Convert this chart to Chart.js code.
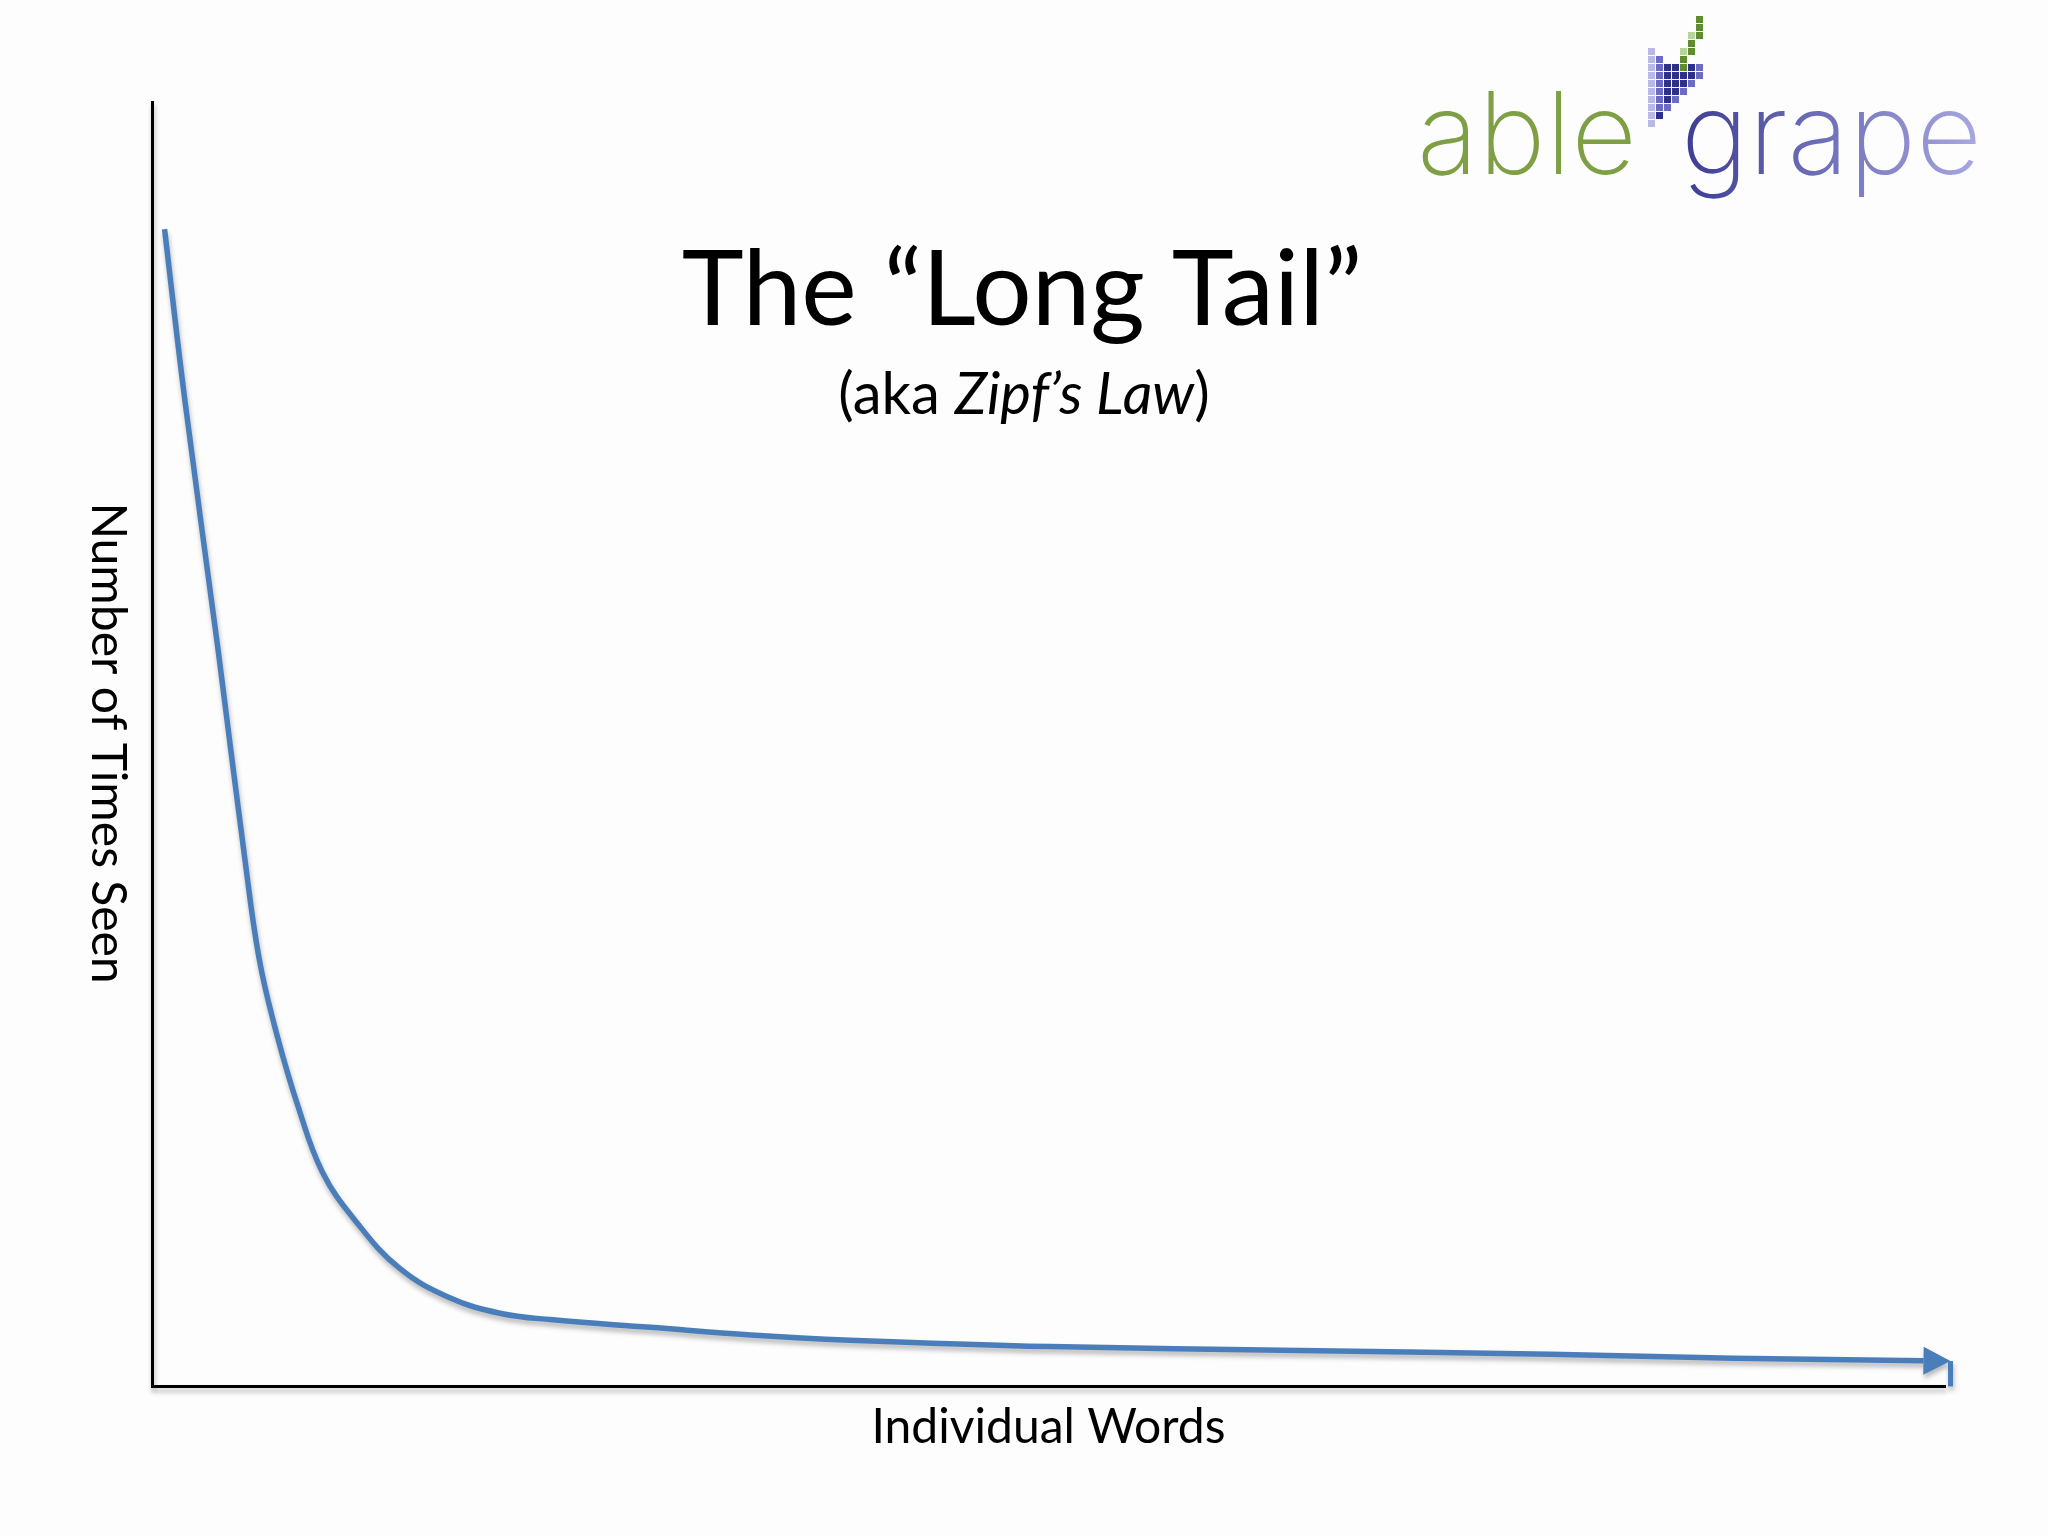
<!DOCTYPE html>
<html>
<head>
<meta charset="utf-8">
<title>The “Long Tail”</title>
<script src="https://cdn.jsdelivr.net/npm/chart.js@4.4.1/dist/chart.umd.min.js"></script>
<style>
  html, body { margin: 0; padding: 0; background: #fdfdfd; }
  #wrap { width: 2048px; height: 1536px; }
</style>
</head>
<body>
<div id="wrap"><canvas id="chart-zipf" width="2048" height="1536"></canvas></div>
<script>
// ── Data (abstract rank vs. frequency) ──
const rankX  = [0.7, 1.84, 3.7, 5.5, 6.1, 7.0, 8.1, 9.5, 11.4, 13.8, 16.6, 19.4, 22.2, 27.8, 33.4, 38.9, 50.1, 64.0, 78.0, 88.2, 98.8];
const countY = [90.1, 76.7, 57.2, 37.6, 32.4, 27.2, 22.0, 16.7, 12.8, 9.2, 6.9, 5.7, 5.2, 4.6, 4.0, 3.6, 3.1, 2.8, 2.5, 2.2, 2.0];

const titleText     = 'The “Long Tail”';
const subtitleParts = [['(aka ', 'normal'], ['Zipf’s Law', 'italic'], [')', 'normal']];
const xAxisLabel    = 'Individual Words';
const yAxisLabel    = 'Number of Times Seen';

// ── Style ────────────────────────────────────────────────
const BLUE   = '#4a7ebb';
const FONT   = 'Lato, "Open Sans", sans-serif';

// pixel mosaic of the logo icon (one char per cell)
const logoCells = [
  '......g.',
  '......g.',
  '.....Gg.',
  '.....g..',
  'p...Gg..',
  'pP..g...',
  'pPDDgDP.',
  'pPDDDDP.',
  'pPDDDP..',
  'pPDDP...',
  'pPDP....',
  'pPP.....',
  'pD......',
  'p.......'
];
const logoColors = {
  g: '#5f8c2f', G: 'rgba(140,185,90,0.6)',
  p: 'rgba(130,130,210,0.55)', P: '#6b6bc4', D: '#2f2f8c'
};

// ── Helpers ──────────────────────────────────────────────
function setShadow(ctx) {
  ctx.shadowColor   = 'rgba(0,0,0,0.28)';
  ctx.shadowBlur    = 5;
  ctx.shadowOffsetX = 1;
  ctx.shadowOffsetY = 4;
}

function drawArrowHead(chart) {
  const ctx  = chart.ctx;
  const pts  = chart.getDatasetMeta(0).data;
  const end  = pts[pts.length - 1];
  const prev = pts[pts.length - 2];
  const a    = Math.atan2(end.y - prev.y, end.x - prev.x);
  const len = 27, half = 14;
  const tipX = end.x + len * Math.cos(a);
  const tipY = end.y + len * Math.sin(a);

  ctx.fillStyle = BLUE;
  ctx.beginPath();
  ctx.moveTo(tipX, tipY);
  ctx.lineTo(end.x - half * Math.sin(a), end.y + half * Math.cos(a));
  ctx.lineTo(end.x + half * Math.sin(a), end.y - half * Math.cos(a));
  ctx.closePath();
  ctx.fill();

  // little vertical stub under the tip, as on the slide
  ctx.strokeStyle = BLUE;
  ctx.lineWidth = 5;
  ctx.beginPath();
  ctx.moveTo(tipX, tipY);
  ctx.lineTo(tipX, chart.scales.y.getPixelForValue(0));
  ctx.stroke();
}

function drawTexts(ctx) {
  ctx.fillStyle = '#000';
  ctx.textBaseline = 'alphabetic';

  // title
  ctx.font = `400 105px ${FONT}`;
  ctx.textAlign = 'center';
  ctx.fillText(titleText, 1022, 325);

  // subtitle, mixed roman / italic
  let total = 0;
  subtitleParts.forEach(([t, s]) => { ctx.font = `${s} 400 58px ${FONT}`; total += ctx.measureText(t).width; });
  let x = 1024 - total / 2;
  ctx.textAlign = 'left';
  subtitleParts.forEach(([t, s]) => {
    ctx.font = `${s} 400 58px ${FONT}`;
    ctx.fillText(t, x, 414);
    x += ctx.measureText(t).width;
  });

  // y title reads top to bottom
  ctx.save();
  ctx.translate(92, 743);
  ctx.rotate(Math.PI / 2);
  ctx.font = `400 48px ${FONT}`;
  ctx.textAlign = 'center';
  ctx.fillText(yAxisLabel, 0, 0);
  ctx.restore();
}

function drawLogo(ctx) {
  const ox = 1648, oy = 16, cell = 8;
  logoCells.forEach((row, r) => {
    for (let c = 0; c < row.length; c++) {
      const col = logoColors[row[c]];
      if (!col) continue;
      ctx.fillStyle = col;
      ctx.fillRect(ox + c * cell, oy + r * cell, cell - 1, cell - 1);
    }
  });

  ctx.textAlign = 'left';
  ctx.textBaseline = 'alphabetic';
  ctx.font = '200 114px Inter, Lato, sans-serif';
  ctx.fillStyle = '#7f9f45';
  ctx.fillText('able', 1417, 174);

  const grad = ctx.createLinearGradient(1681, 0, 1983, 0);
  grad.addColorStop(0, '#3c3c94');
  grad.addColorStop(1, '#a9a9e2');
  ctx.fillStyle = grad;
  ctx.fillText('grape', 1681, 174);
}

// ── Slide plugin: shadows, arrow, texts, logo ────────────
const slidePlugin = {
  id: 'slide',
  beforeDatasetsDraw(chart) {
    chart.ctx.save();
    setShadow(chart.ctx);
  },
  afterDatasetsDraw(chart) {
    drawArrowHead(chart);
    // shadow stays on for the axis borders (border.z = 1)
  },
  afterDraw(chart) {
    const ctx = chart.ctx;
    ctx.restore();
    drawTexts(ctx);
    drawLogo(ctx);
  }
};

// ── Chart ────────────────────────────────────────────────
const points = rankX.map((x, i) => ({ x, y: countY[i] }));

new Chart(document.getElementById('chart-zipf').getContext('2d'), {
  type: 'line',
  data: {
    datasets: [{
      data: points,
      borderColor: BLUE,
      borderWidth: 5.5,
      pointRadius: 0,
      tension: 0.4,
      clip: false
    }]
  },
  options: {
    responsive: false,
    animation: false,
    layout: { padding: { left: 152, top: 102, right: 103, bottom: 76 } },
    plugins: { legend: { display: false }, tooltip: { enabled: false } },
    scales: {
      x: {
        type: 'linear', min: 0, max: 100,
        grid:   { display: false, drawTicks: false },
        ticks:  { display: false },
        border: { display: true, color: '#000', width: 3, z: 1 },
        title:  { display: true, text: xAxisLabel, color: '#000',
                  font: { family: FONT, size: 48 }, padding: { top: 12, bottom: 4 } }
      },
      y: {
        min: 0, max: 100,
        grid:   { display: false, drawTicks: false },
        ticks:  { display: false },
        border: { display: true, color: '#000', width: 3, z: 1 }
      }
    }
  },
  plugins: [slidePlugin]
});
</script>
</body>
</html>
